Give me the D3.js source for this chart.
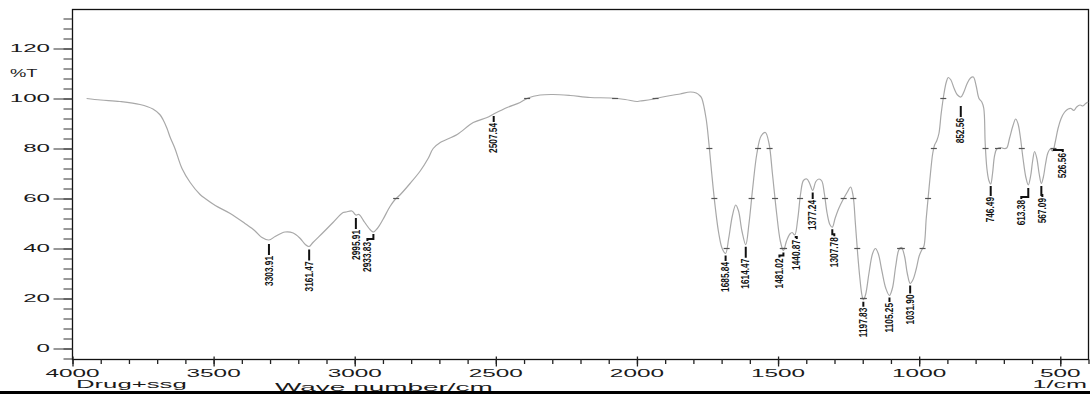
<!DOCTYPE html>
<html>
<head>
<meta charset="utf-8">
<script src="https://cdn.jsdelivr.net/npm/d3@7"></script>
<style>
  html, body { margin: 0; padding: 0; background: #fff; }
  svg { display: block; }
</style>
</head>
<body>
<script>
// IR spectrum: wavenumber (cm-1) and transmittance (%T)
const waveNumbers = [
  3950, 3900, 3832, 3761, 3715, 3690, 3679, 3665, 3654, 3637, 3612, 3583, 3548, 3530, 3494, 3441,
  3389, 3353, 3330, 3303.91, 3282, 3247, 3218, 3193, 3175, 3161.47, 3148, 3112, 3077, 3041, 3030,
  3010, 2995.91, 2985, 2965, 2945, 2933.83, 2920, 2900, 2875, 2857, 2839, 2804, 2768, 2740, 2722,
  2697, 2637, 2580, 2531, 2507.54, 2460, 2414, 2386, 2343, 2297, 2237, 2166, 2095, 2042, 2000,
  1989, 1950, 1918, 1870, 1847, 1811, 1790, 1776, 1770, 1755, 1745, 1735, 1722, 1710, 1698,
  1685.84, 1675, 1662, 1650, 1640, 1628, 1614.47, 1603, 1590, 1575, 1560, 1545, 1532, 1520, 1505,
  1492, 1481.02, 1470, 1458, 1450, 1440.87, 1430, 1420, 1410, 1398, 1388, 1377.24, 1366, 1355,
  1345, 1336, 1326, 1316, 1307.78, 1298, 1285, 1270, 1255, 1243, 1234, 1226, 1218, 1210, 1203,
  1197.83, 1190, 1178, 1165, 1155, 1145, 1132, 1118, 1105.25, 1095, 1083, 1072, 1063, 1052, 1042,
  1031.9, 1022, 1010, 1000, 990, 983, 975, 968, 960, 952, 945, 938, 930, 922, 912, 904, 897, 888,
  876, 865, 852.56, 842, 830, 818, 808, 798, 788, 778, 771, 766, 760, 753, 746.49, 740, 733, 725,
  712, 700, 690, 680, 668, 658, 650, 642, 632, 622, 613.38, 605, 598, 591, 583, 575, 567.09, 560,
  552, 544, 535, 526.56, 518, 508, 497, 485, 472, 462, 452, 442, 430, 420, 410, 401
];
const transmittance = [
  100.0, 99.4, 98.8, 97.6, 95.8, 93.5, 91.5, 88.0, 84.5, 80.0, 72.0, 66.4, 61.6, 60.0, 57.2, 54.0,
  50.0, 47.0, 44.5, 43.4, 44.8, 46.6, 46.2, 44.0, 41.6, 40.8, 42.4, 46.4, 50.4, 54.4, 54.6,
  55.0, 53.4, 53.6, 50.5, 47.5, 46.6, 48.0, 51.6, 56.8, 59.6, 61.5, 66.0, 71.0, 76.0, 80.0,
  82.4, 85.6, 90.4, 92.4, 93.8, 96.4, 98.4, 100.2, 101.4, 101.6, 101.2, 100.4, 100.2, 99.6, 98.8,
  99.0, 99.6, 100.4, 101.4, 101.8, 102.6, 102.2, 101.0, 100.0, 92.0, 82.0, 70.0, 56.0, 46.0, 40.0,
  38.0, 44.0, 53.0, 57.4, 55.0, 47.0, 41.5, 50.0, 64.0, 78.0, 85.0, 86.4, 82.0, 70.0, 54.0,
  43.0, 39.2, 43.0, 45.8, 46.4, 45.4, 52.0, 62.0, 67.2, 67.8, 66.0, 63.2, 66.8, 67.8,
  67.0, 62.0, 54.0, 49.5, 48.5, 52.0, 56.0, 59.5, 62.5, 64.6, 61.0, 50.0, 38.0, 28.0, 21.5,
  19.5, 21.5, 30.0, 38.0, 40.0, 38.0, 31.0, 24.0, 21.2, 24.0, 33.0, 39.5, 40.5, 37.0, 30.0,
  26.0, 27.5, 32.0, 37.0, 39.6, 41.0, 52.0, 60.5, 70.0, 78.0, 81.5, 83.0, 86.0, 94.0, 102.0, 106.5, 108.4, 107.5,
  104.0, 101.5, 100.6, 102.5, 106.0, 108.2, 108.6, 105.0, 100.0, 98.6, 96.0, 82.0, 72.0, 67.2, 65.8, 70.0, 77.0, 79.8,
  80.4, 80.0, 80.2, 84.0, 89.0, 91.8, 90.0, 85.0, 76.0, 68.5, 65.4, 69.0, 75.0, 78.8, 76.0, 70.0, 66.0, 68.5,
  74.0, 78.2, 79.8, 79.0, 82.5, 88.0, 92.0, 94.5, 95.8, 96.0, 95.2, 96.6, 97.4, 97.0, 98.0, 98.6
];

// Peak picks (cm-1) and their printed labels
const peakWavenumbers = [3303.91, 3161.47, 2995.91, 2933.83, 2507.54, 1685.84, 1614.47, 1481.02, 1440.87,
  1377.24, 1307.78, 1197.83, 1105.25, 1031.9, 852.56, 746.49, 613.38, 567.09, 526.56];
const peakLabels = ["3303.91", "3161.47", "2995.91", "2933.83", "2507.54", "1685.84", "1614.47", "1481.02", "1440.87",
  "1377.24", "1307.78", "1197.83", "1105.25", "1031.90", "852.56", "746.49", "613.38", "567.09", "526.56"];

// Axis ticks and texts
const xMajorTicks = [4000, 3500, 3000, 2500, 2000, 1500, 1000, 500];
const xTickLabels = ["4000", "3500", "3000", "2500", "2000", "1500", "1000", "500"];
const yMajorTicks = [0, 20, 40, 60, 80, 100, 120];
const yTickLabels = ["0", "20", "40", "60", "80", "100", "120"];
const yTitle = "%T";
const sampleName = "Drug+ssg";
const xTitle = "Wave number/cm";
const xUnit = "1/cm";

// Label placement: distance from curve to text top, sideways shift of text
const labelLayout = {
  gap:   [16, 15, 15, 10, 9, 8.5, 14, 8, 5, 9.5, 10, 8, 7.5, 11, 21, 13, 15, 14.5, 2],
  shift: [0, 0, 0, -6, 0, 0, 0, -4, 2, 0, 2, 0, 0, 0, 0, 0, -7, 1, 10]
};

const W = 1090, H = 394;
const svg = d3.select("body").append("svg").attr("width", W).attr("height", H);

const plot = { left: 72.5, right: 1088.5, top: 9.5, bottom: 359.5 };
const x = d3.scaleLinear().domain([4000, 400]).range([plot.left, plot.right]);
const y = d3.scaleLinear().domain([0, 100]).range([348.5, 98.5]);

const fontFamily = "'Liberation Sans', Arial, sans-serif";

function stretchedText(str, px, py, anchor, size, sx, color) {
  return svg.append("text")
    .attr("transform", `translate(${px},${py}) scale(${sx},1)`)
    .attr("text-anchor", anchor)
    .attr("font-family", fontFamily)
    .attr("font-size", size)
    .attr("fill", color || "#1a1a1a")
    .text(str);
}

// Frame
svg.append("rect")
  .attr("x", plot.left).attr("y", plot.top)
  .attr("width", plot.right - plot.left).attr("height", plot.bottom - plot.top)
  .attr("fill", "none").attr("stroke", "#111").attr("stroke-width", 1.3);

// Y axis: minor ticks every 4 %T, long ticks every 20
const yMinor = svg.append("g").attr("transform", `translate(${plot.left},0)`)
  .call(d3.axisLeft(y).tickValues(d3.range(-4, 133, 4)).tickSize(9).tickFormat(""));
const yMajor = svg.append("g").attr("transform", `translate(${plot.left},0)`)
  .call(d3.axisLeft(y).tickValues(yMajorTicks).tickSize(19).tickFormat(""));
[yMinor, yMajor].forEach(g => {
  g.select(".domain").remove();
  g.selectAll("line").attr("stroke", "#333").attr("stroke-width", 1);
});
yMajorTicks.forEach((v, i) => stretchedText(yTickLabels[i], 50, y(v) + 3.8, "end", 10.5, 2.3));
stretchedText(yTitle, 10, 77, "start", 10.5, 1.75);

// X axis: minor ticks every 100 cm-1, longer ticks every 500
const xMinor = svg.append("g").attr("transform", `translate(0,${plot.bottom})`)
  .call(d3.axisBottom(x).tickValues(d3.range(4000, 399, -100)).tickSize(4.5).tickFormat(""));
const xMajor = svg.append("g").attr("transform", `translate(0,${plot.bottom - 3})`)
  .call(d3.axisBottom(x).tickValues(xMajorTicks).tickSize(10).tickFormat(""));
[xMinor, xMajor].forEach(g => {
  g.select(".domain").remove();
  g.selectAll("line").attr("stroke", "#222").attr("stroke-width", 1.3);
});
xMajorTicks.forEach((v, i) => stretchedText(xTickLabels[i], x(v), 377, "middle", 10.5, 2.32));
stretchedText(sampleName, 76, 387.5, "start", 10.5, 2.45);
stretchedText(xUnit, 1087, 388, "end", 10.5, 2.4);
stretchedText(xTitle, 275, 391, "start", 11.5, 2.43);

// Spectrum trace
const pts = waveNumbers.map((w, i) => [w, transmittance[i]]);
const line = d3.line().x(d => x(d[0])).y(d => y(d[1])).curve(d3.curveCatmullRom.alpha(0.5));
svg.append("path").datum(pts)
  .attr("d", line)
  .attr("fill", "none")
  .attr("stroke", "#a8a8a8")
  .attr("stroke-width", 1.2);

// Short grid marks where the trace crosses the major %T levels
const crossLevels = [20, 40, 60, 80, 100];
const crossings = [];
for (let i = 1; i < pts.length; i++) {
  const [w0, t0] = pts[i - 1], [w1, t1] = pts[i];
  crossLevels.forEach(L => {
    if ((t0 - L) * (t1 - L) < 0) {
      const f = (L - t0) / (t1 - t0);
      crossings.push([w0 + f * (w1 - w0), L]);
    }
  });
}
svg.append("g").selectAll("line").data(crossings).join("line")
  .attr("x1", d => x(d[0]) - 3).attr("x2", d => x(d[0]) + 3)
  .attr("y1", d => y(d[1])).attr("y2", d => y(d[1]))
  .attr("stroke", "#555").attr("stroke-width", 1.2);

// Peak labels: marker under the band, vertical text reading upward
const peakG = svg.append("g");
peakWavenumbers.forEach((w, i) => {
  const t = transmittance[waveNumbers.indexOf(w)];
  const px = x(w), cy = y(t);
  const top = cy + labelLayout.gap[i];
  const tx = px + labelLayout.shift[i];
  const mTop = Math.max(cy + 2, top - 12);
  let d;
  if (labelLayout.shift[i] === 0) {
    d = `M${px},${mTop}L${px},${top - 1}`;
  } else {
    d = `M${px},${Math.min(mTop, top - 3)}L${px},${top - 3}L${tx},${top - 3}L${tx},${top - 1}`;
  }
  peakG.append("path").attr("d", d)
    .attr("fill", "none").attr("stroke", "#111").attr("stroke-width", 2);
  peakG.append("text")
    .attr("transform", `translate(${tx},${top}) scale(1.25,1) rotate(-90)`)
    .attr("text-anchor", "end")
    .attr("dy", "0.35em")
    .attr("font-family", fontFamily)
    .attr("font-weight", "bold")
    .attr("font-size", 8.3)
    .attr("fill", "#111")
    .text(peakLabels[i]);
});

// Dark band along the lower edge
svg.append("rect").attr("x", 0).attr("y", 391).attr("width", W).attr("height", 3).attr("fill", "#000");
</script>
</body>
</html>
